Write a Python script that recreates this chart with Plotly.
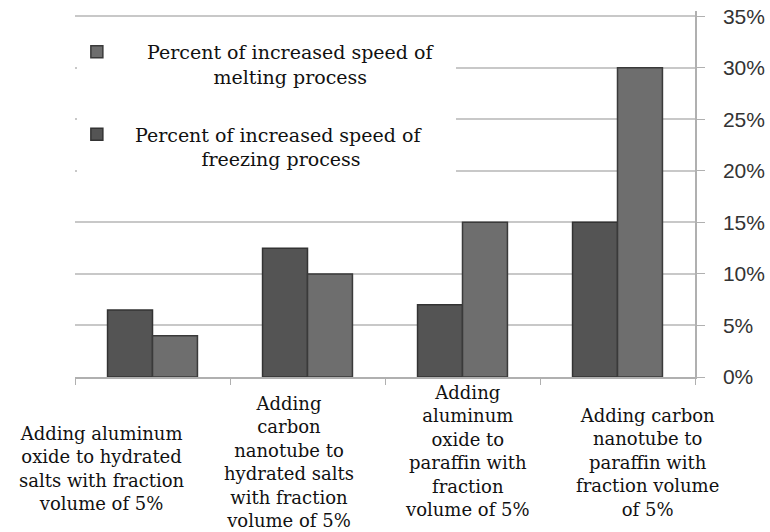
import plotly.graph_objects as go

categories = ["Al2O3 + hydrated salts", "CNT + hydrated salts", "Al2O3 + paraffin", "CNT + paraffin"]
category_labels = [
    "Adding aluminum<br>oxide to hydrated<br>salts with fraction<br>volume of 5%",
    "Adding<br>carbon<br>nanotube to<br>hydrated salts<br>with fraction<br>volume of 5%",
    "Adding<br>aluminum<br>oxide to<br>paraffin with<br>fraction<br>volume of 5%",
    "Adding carbon<br>nanotube to<br>paraffin with<br>fraction volume<br>of 5%",
]
freezing = [6.5, 12.5, 7.0, 15.0]
melting = [4.0, 10.0, 15.0, 30.0]
y_ticks = [0, 5, 10, 15, 20, 25, 30, 35]
y_tick_labels = ["0%", "5%", "10%", "15%", "20%", "25%", "30%", "35%"]

NB = "\u00a0"
name_melting = NB * 5 + "Percent of increased speed of" + NB * 3 + "<br>" + NB * 16 + "melting process"
name_freezing = NB * 3 + "Percent of increased speed of<br>" + NB * 14 + "freezing process"

# label offsets (style only)
label_xshift = [-51, -19, 5, 30]
label_yshift = [-44, -14, -3, -26]

fig = go.Figure()
fig.add_trace(go.Bar(
    x=categories, y=freezing, name=name_freezing, legendgroup="freezing", legendrank=2,
    marker=dict(color="#545454", line=dict(color="#333333", width=1.5)),
))
fig.add_trace(go.Bar(
    x=categories, y=melting, name=name_melting, legendgroup="melting", legendrank=1,
    marker=dict(color="#6e6e6e", line=dict(color="#3a3a3a", width=1.5)),
))

for cat, lab, xs, ys in zip(categories, category_labels, label_xshift, label_yshift):
    fig.add_annotation(
        x=cat, xref="x", y=0, yref="paper", yanchor="top", xanchor="center",
        text=lab, showarrow=False, align="center",
        xshift=xs, yshift=ys,
        font=dict(family="DejaVu Serif", size=18, color="#111111"),
    )

fig.update_layout(
    width=770, height=532,
    margin=dict(l=75, r=75, t=11, b=155, autoexpand=False),
    paper_bgcolor="white", plot_bgcolor="white",
    barmode="group", bargap=0.42, bargroupgap=0,
    showlegend=True,
    legend=dict(
        x=0.003, y=0.94, xanchor="left", yanchor="top",
        bgcolor="white", traceorder="grouped", tracegroupgap=30,
        valign="top",
        font=dict(family="DejaVu Serif", size=19, color="#111111"),
    ),
    xaxis=dict(
        type="category", range=[-0.5, 3.5],
        showticklabels=False, showline=True, linecolor="#b0b0b0", linewidth=1.5,
        ticks="outside", tickson="boundaries", ticklen=6, tickcolor="#b0b0b0",
        showgrid=False,
    ),
    yaxis=dict(
        side="right", range=[0, 35.5], tickmode="array",
        tickvals=y_ticks, ticktext=y_tick_labels,
        showline=True, linecolor="#b0b0b0", linewidth=1.5,
        ticks="outside", ticklen=8, tickcolor="#b0b0b0",
        showgrid=True, gridcolor="#c8c8c8", gridwidth=1.5, zeroline=False,
        tickfont=dict(family="Liberation Sans", size=21, color="#333333"),
        ticklabelstandoff=14,
    ),
)

fig.write_html(
    "out.html",
    config={"displayModeBar": False},
    post_script="document.body.style.margin='0';",
)
